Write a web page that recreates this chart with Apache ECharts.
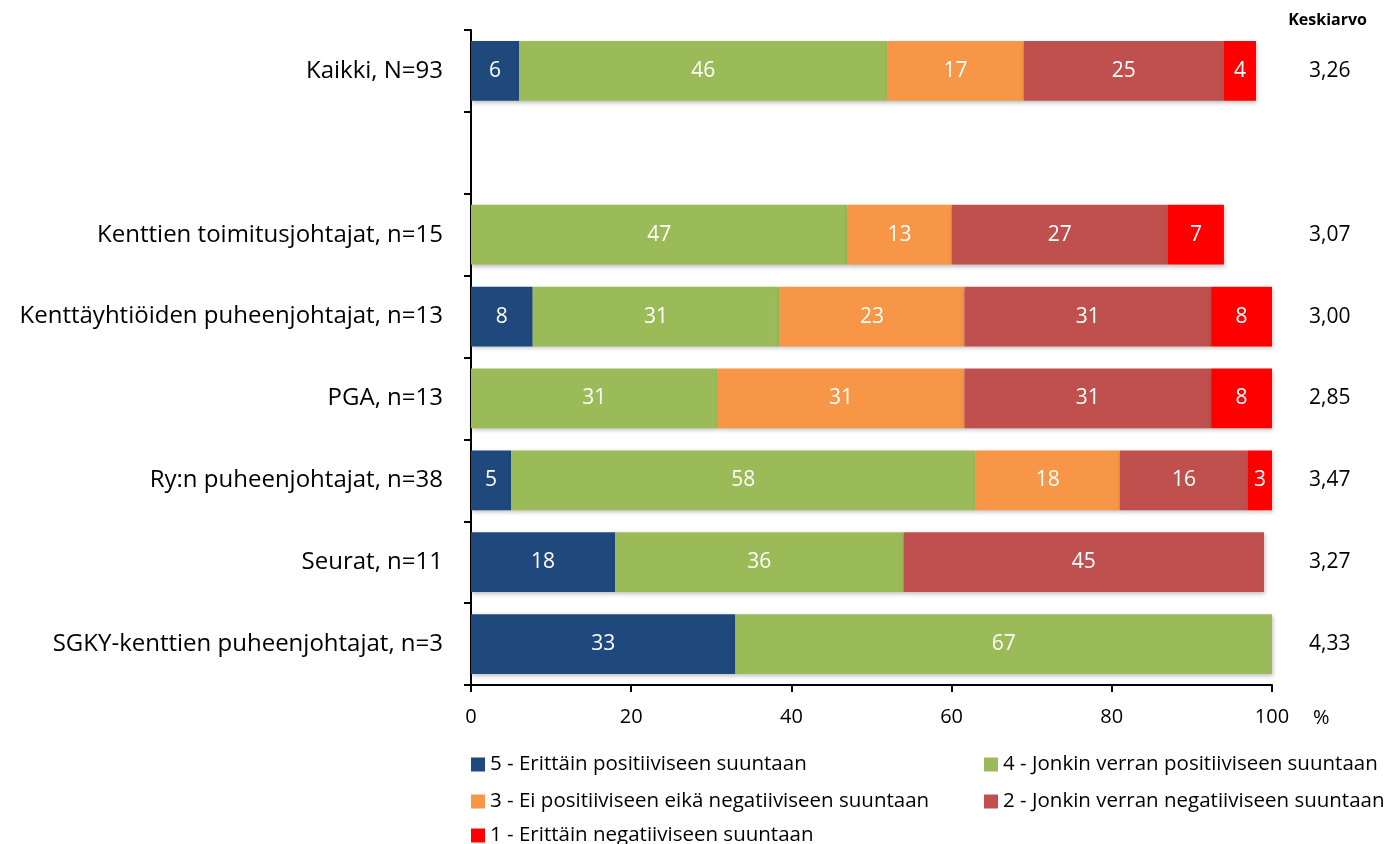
<!DOCTYPE html>
<html>
<head>
<meta charset="utf-8">
<script src="https://cdn.jsdelivr.net/npm/echarts@6/dist/echarts.min.js"></script>
<style>
  html, body { margin: 0; padding: 0; background: #fff; }
  #chart { width: 1398px; height: 844px; }
</style>
</head>
<body>
<div id="chart"></div>
<script>
const categories = [
  "Kaikki, N=93",
  "",
  "Kenttien toimitusjohtajat, n=15",
  "Kenttäyhtiöiden puheenjohtajat, n=13",
  "PGA, n=13",
  "Ry:n puheenjohtajat, n=38",
  "Seurat, n=11",
  "SGKY-kenttien puheenjohtajat, n=3"
];
const seriesNames = [
  "5 - Erittäin positiiviseen suuntaan",
  "4 - Jonkin verran positiiviseen suuntaan",
  "3 - Ei positiiviseen eikä negatiiviseen suuntaan",
  "2 - Jonkin verran negatiiviseen suuntaan",
  "1 - Erittäin negatiiviseen suuntaan"
];
const v5 = [6, null, null, 7.7, null, 5, 18, 33];
const v4 = [46, null, 47, 30.8, 30.8, 58, 36, 67];
const v3 = [17, null, 13, 23.1, 30.8, 18, null, null];
const v2 = [25, null, 27, 30.8, 30.8, 16, 45, null];
const v1 = [4, null, 7, 7.7, 7.7, 3, null, null];
const means = [3.26, null, 3.07, 3.00, 2.85, 3.47, 3.27, 4.33];
const colors = ["#1F497D", "#9BBB59", "#F79646", "#C0504D", "#FF0000"];

const font = "'Open Sans', sans-serif";
const chart = echarts.init(document.getElementById("chart"));

const values = [v5, v4, v3, v2, v1];
const series = values.map((vals, i) => ({
  name: seriesNames[i],
  type: "bar",
  stack: "total",
  barCategoryGap: "27%",
  data: vals,
  itemStyle: {
    color: colors[i],
    shadowBlur: 4,
    shadowOffsetX: 1,
    shadowOffsetY: 2,
    shadowColor: "rgba(0,0,0,0.25)"
  },
  label: {
    show: true,
    position: "inside",
    color: "#fff",
    fontSize: 21,
    fontFamily: font,
    formatter: p => (p.value ? Math.round(p.value) : "")
  },
  emphasis: { disabled: true }
}));

// legend: two columns, one component per item
const legendPos = [
  { left: 466, top: 749 },
  { left: 979, top: 749 },
  { left: 466, top: 786 },
  { left: 979, top: 786 },
  { left: 466, top: 820 }
];
const legends = seriesNames.map((n, i) => ({
  data: [n],
  left: legendPos[i].left,
  top: legendPos[i].top,
  icon: "rect",
  itemWidth: 14,
  itemHeight: 14,
  itemGap: 6,
  textStyle: { fontSize: 20.5, fontFamily: font, color: "#000" },
  selectedMode: false
}));

const option = {
  animation: false,
  title: {
    text: "Keskiarvo",
    right: 26,
    top: 7,
    textStyle: { fontSize: 16, fontWeight: "bold", fontFamily: font, color: "#000" }
  },
  legend: legends,
  grid: { left: 471, right: 126, top: 30, bottom: 159 },
  xAxis: {
    type: "value",
    min: 0,
    max: 100,
    interval: 20,
    name: "%",
    nameLocation: "end",
    nameGap: 41,
    nameTextStyle: { fontSize: 20, fontFamily: font, color: "#000", verticalAlign: "top", padding: [23, 0, 0, 0] },
    axisLine: { show: true, lineStyle: { color: "#000", width: 2 } },
    axisTick: { show: true, length: 7, lineStyle: { color: "#000", width: 2 } },
    axisLabel: { fontSize: 20, fontFamily: font, color: "#000", margin: 22 },
    splitLine: { show: false }
  },
  yAxis: [
    {
      type: "category",
      inverse: true,
      data: categories,
      axisLine: { show: true, lineStyle: { color: "#000", width: 2 } },
      axisTick: { show: true, length: 7, lineStyle: { color: "#000", width: 2 } },
      axisLabel: { fontSize: 24, fontFamily: font, color: "#000", margin: 28 }
    },
    {
      type: "category",
      inverse: true,
      position: "right",
      data: means.map(m => (m == null ? "" : m.toFixed(2).replace(".", ","))),
      axisLine: { show: false },
      axisTick: { show: false },
      axisLabel: { fontSize: 21, fontFamily: font, color: "#000", margin: 37, align: "left" }
    }
  ],
  series: series
};

chart.setOption(option);
window.onresize = () => {
  chart.resize();
};
</script>
</body>
</html>
